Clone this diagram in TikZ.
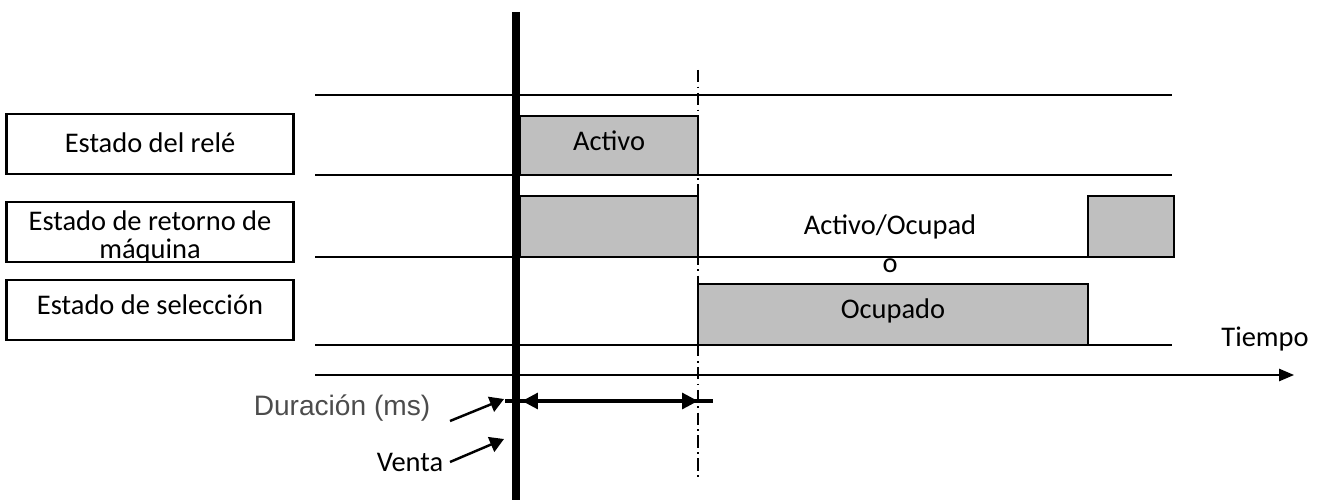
\documentclass[tikz,border=0pt]{standalone}
\usepackage{fontspec}
\setmainfont{Carlito}
\newfontfamily\arialfont{Liberation Sans}
\usetikzlibrary{arrows.meta, positioning}

\begin{document}
\begin{tikzpicture}[x=0.02cm, y=-0.02cm,
  lbl/.style={font=\fontsize{16.2}{16}\selectfont, align=center, inner sep=0pt},
  namebox/.style={draw, line width=1.2pt, minimum width=5.74cm, minimum height=1.2cm},
  pulse/.style={draw, line width=0.8pt, fill=black!25},
  track/.style={line width=0.9pt},
  arr/.style={-{Triangle[length=8pt, width=9pt]}, line width=1.4pt},
]
\useasboundingbox (0,0) rectangle (1324,500);

% Signal names
\node[namebox] (rele) at (150, 144) {};
\node[lbl] at (150, 143) {Estado del relé};
\node[namebox] (retorno) at (150, 232) {};
\node[lbl] at (150, 237) {Estado de retorno de\\máquina};
\node[namebox, minimum height=1.2cm] (selec) at (150, 310) {};
\node[lbl] at (150, 305) {Estado de selección};

% Tracks
\draw[track] (315, 95) -- (1172, 95);
\draw[track] (315, 175) -- (1172, 175);
\draw[track] (315, 257) -- (1088, 257);
\draw[track] (315, 345) -- (1172, 345);

% Pulses
\node[pulse, minimum width=3.56cm, minimum height=1.18cm] (activo) at (609, 145.5) {};
\node[lbl] at (609, 141) {Activo};
\node[pulse, minimum width=3.56cm, minimum height=1.22cm] (ret1) at (609, 226.5) {};
\node[pulse, minimum width=1.72cm, minimum height=1.22cm] (ret2) at (1131, 226.5) {};
\node[pulse, minimum width=7.8cm, minimum height=1.22cm] (ocupado) at (893, 314.5) {};
\node[lbl] at (893, 311) {Ocupado};
\node[lbl, font=\fontsize{16.2}{21.5}\selectfont] (estado) at (890, 244) {Activo/Ocupad\\o};

% Time axis
\coordinate (t0) at (315, 375);
\coordinate (t1) at (1294, 375);
\draw[-{Triangle[length=8.5pt, width=7pt]}, line width=0.9pt] (t0) -- (t1);
\node[lbl] (tiempo) at (1265, 339) {Tiempo};

% Sale instant and end of pulse
\draw[line width=4.5pt] (516, 12) -- (516, 500);
\draw[line width=0.8pt, dash pattern=on 7pt off 2.5pt on 1pt off 2.5pt] (698, 70) -- (698, 480);

% Duration
\coordinate (d0) at (522, 401);
\coordinate (d1) at (698, 401);
\draw[line width=1.8pt] (505, 401) -- (713, 401);
\draw[{Triangle[length=9pt, width=9pt]}-{Triangle[length=9pt, width=9pt]}, line width=1.8pt] (d0) -- (d1);

% Labels
\node[lbl, font=\arialfont\fontsize{16}{16}\selectfont, text=black!70] (dur) at (342, 408) {Duración (ms)};
\node[lbl] (venta) at (410, 462) {Venta};
\coordinate (durtip) at (504, 399);
\coordinate (ventatip) at (504, 439);
\draw[arr] (450, 421) -- (durtip);
\draw[arr] (450, 462) -- (ventatip);
\end{tikzpicture}
\end{document}
